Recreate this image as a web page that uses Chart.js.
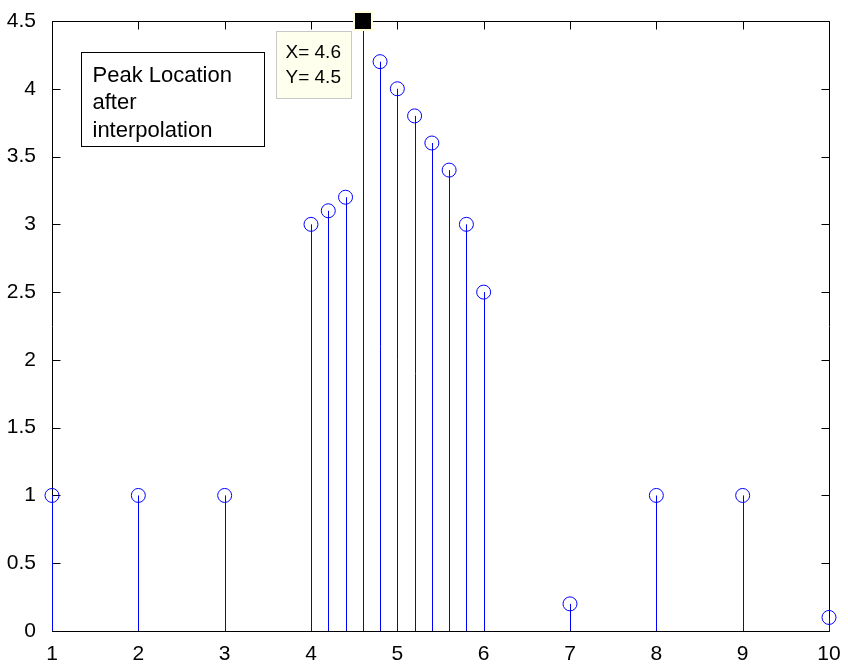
<!DOCTYPE html>
<html>
<head>
<meta charset="utf-8">
<script src="https://cdn.jsdelivr.net/npm/chart.js@4/dist/chart.umd.min.js"></script>
<style>
body{margin:0;background:#fff}
canvas{display:block}
</style>
</head>
<body>
<canvas id="myChart" width="848" height="666"></canvas>
<script>
// stem samples (original + interpolated around the peak)
const xVals = [1, 2, 3, 4, 4.2, 4.4, 4.6, 4.8, 5, 5.2, 5.4, 5.6, 5.8, 6, 7, 8, 9, 10]
const yVals = [1, 1, 1, 3, 3.1, 3.2, 4.5, 4.2, 4, 3.8, 3.6, 3.4, 3, 2.5, 0.2, 1, 1, 0.1]

const xTickVals = [1, 2, 3, 4, 5, 6, 7, 8, 9, 10]
const yTickVals = [0, 0.5, 1, 1.5, 2, 2.5, 3, 3.5, 4, 4.5]

const noteLines = ['Peak Location', 'after', 'interpolation']

const FONT = '"Liberation Sans", Arial, Helvetica, sans-serif'
const BLUE = 'rgb(0,0,255)'

const $points = xVals.map((v, i) => ({x: v, y: yVals[i]}))

// axes box, inward ticks and the stems themselves
const stemPlugin = {
  id: 'stemPlugin',
  beforeDatasetsDraw(chart) {
    const {ctx, chartArea: a, scales: {x, y}} = chart
    const L = Math.round(a.left) + 0.5, R = Math.round(a.right) + 0.5
    const T = Math.round(a.top) + 0.5, B = Math.round(a.bottom) + 0.5
    ctx.save()
    ctx.strokeStyle = '#000'
    ctx.lineWidth = 1
    ctx.beginPath()
    ctx.rect(L, T, R - L, B - T)
    xTickVals.forEach(v => {
      const p = Math.round(x.getPixelForValue(v)) + 0.5
      ctx.moveTo(p, B); ctx.lineTo(p, B - 8)
      ctx.moveTo(p, T); ctx.lineTo(p, T + 8)
    })
    yTickVals.forEach(v => {
      const p = Math.round(y.getPixelForValue(v)) + 0.5
      ctx.moveTo(L, p); ctx.lineTo(L + 8, p)
      ctx.moveTo(R, p); ctx.lineTo(R - 8, p)
    })
    ctx.stroke()

    // stems from 0 up to each sample
    ctx.strokeStyle = BLUE
    ctx.beginPath()
    const y0 = y.getPixelForValue(0)
    xVals.forEach((v, i) => {
      const p = Math.round(x.getPixelForValue(v)) + 0.5
      ctx.moveTo(p, y0)
      ctx.lineTo(p, y.getPixelForValue(yVals[i]))
    })
    ctx.stroke()
    ctx.restore()
  },
  afterDraw(chart) {
    const {ctx, chartArea: a, scales: {x, y}} = chart
    ctx.save()

    // data tip on the max sample
    const i = yVals.indexOf(Math.max(...yVals))
    const px = x.getPixelForValue(xVals[i]), py = y.getPixelForValue(yVals[i])
    const bx = Math.round(px) - 87 + 0.5, by = Math.round(py) + 10 + 0.5
    ctx.fillStyle = 'rgb(255,255,238)'
    ctx.fillRect(bx, by, 75, 67)
    ctx.strokeStyle = '#c8c8c8'
    ctx.lineWidth = 1
    ctx.strokeRect(bx, by, 75, 67)
    ctx.fillStyle = '#000'
    ctx.font = '19px ' + FONT
    ctx.textBaseline = 'alphabetic'
    ctx.textAlign = 'left'
    ctx.fillText('X= ' + xVals[i], bx + 9, by + 26)
    ctx.fillText('Y= ' + yVals[i], bx + 9, by + 51)

    ctx.fillStyle = 'rgb(255,255,215)'
    ctx.fillRect(Math.round(px) - 10, Math.round(py) - 10, 20, 20)
    ctx.fillStyle = '#000'
    ctx.fillRect(Math.round(px) - 8, Math.round(py) - 8, 16, 16)

    // text box annotation
    const nx = Math.round(a.left) + 29 + 0.5, ny = Math.round(a.top) + 31 + 0.5
    ctx.fillStyle = '#fff'
    ctx.fillRect(nx, ny, 183, 94)
    ctx.strokeStyle = '#000'
    ctx.strokeRect(nx, ny, 183, 94)
    ctx.fillStyle = '#000'
    ctx.font = '22px ' + FONT
    noteLines.forEach((t, k) => ctx.fillText(t, nx + 11, ny + 29 + k * 27.8))

    ctx.restore()
  }
}

const $ctx = document.getElementById('myChart').getContext('2d')

const config = {
  type: 'scatter',
  data: {
    datasets: [{
      data: $points,
      showLine: false,
      pointStyle: 'circle',
      pointRadius: 7,
      pointHoverRadius: 7,
      pointBorderWidth: 1,
      pointBorderColor: BLUE,
      pointBackgroundColor: 'rgba(0,0,0,0)',
      clip: false
    }]
  },
  options: {
    responsive: false,
    animation: false,
    devicePixelRatio: 1,
    events: [],
    layout: {padding: {top: 21, right: 19, left: 0, bottom: 0}},
    plugins: {legend: {display: false}, tooltip: {enabled: false}},
    scales: {
      x: {
        type: 'linear',
        min: 1,
        max: 10,
        afterBuildTicks: s => { s.ticks = xTickVals.map(v => ({value: v})) },
        afterFit: s => { s.height = 35 },
        grid: {display: false},
        border: {display: false},
        ticks: {
          callback: v => String(v),
          color: '#000',
          font: {family: FONT, size: 21},
          padding: 3,
          maxRotation: 0,
          autoSkip: false
        }
      },
      y: {
        type: 'linear',
        min: 0,
        max: 4.5,
        afterBuildTicks: s => { s.ticks = yTickVals.map(v => ({value: v})) },
        afterFit: s => { s.width = 52 },
        grid: {display: false},
        border: {display: false},
        ticks: {
          callback: v => String(v),
          color: '#000',
          font: {family: FONT, size: 21},
          padding: 8,
          autoSkip: false
        }
      }
    }
  },
  plugins: [stemPlugin]
}

var mychar = new Chart($ctx, config)
</script>
</body>
</html>
